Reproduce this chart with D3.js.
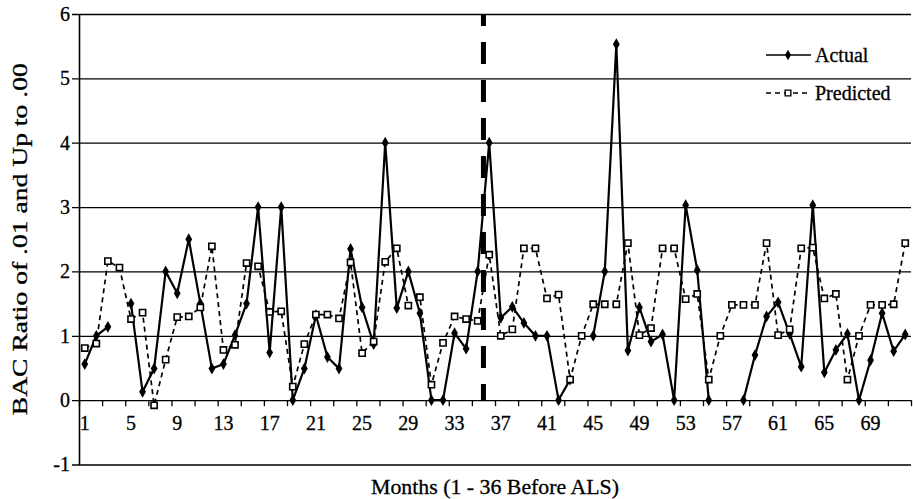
<!DOCTYPE html>
<html>
<head>
<meta charset="utf-8">
<script src="https://cdn.jsdelivr.net/npm/d3@7"></script>
<style>
  body { margin: 0; background: #fff; }
  text { font-family: "Liberation Serif", "Times New Roman", serif; fill: #000; stroke: #000; stroke-width: 0.3px; }
</style>
</head>
<body>
<svg id="chart" width="913" height="499"></svg>
<script>
// Monthly BAC ratio (.01 and up to .00), actual vs. predicted
const months = d3.range(1, 73);
const actual = [0.56, 1.0, 1.14, null, 1.5, 0.13, 0.49, 2.0, 1.66, 2.5, 1.5, 0.49,
                0.56, 1.01, 1.5, 3.0, 0.74, 3.0, 0, 0.49, 1.32, 0.67, 0.49, 2.35,
                1.44, 0.87, 4.0, 1.43, 2.0, 1.35, 0, 0, 1.04, 0.8, 2.0, 4.0,
                1.28, 1.45, 1.2, 1.0, 1.0, 0, 0.32, null, 1.0, 2.0, 5.53, 0.77,
                1.44, 0.91, 1.02, 0, 3.03, 2.02, 0, null, null, 0, 0.7, 1.3,
                1.52, 1.03, 0.52, 3.03, 0.43, 0.78, 1.03, 0, 0.62, 1.35, 0.76, 1.02];
const predicted = [0.81, 0.88, 2.16, 2.06, 1.26, 1.36, -0.08, 0.63, 1.29, 1.30, 1.44, 2.39,
                   0.78, 0.86, 2.13, 2.08, 1.37, 1.38, 0.21, 0.87, 1.33, 1.33, 1.27, 2.14,
                   0.73, 0.91, 2.15, 2.36, 1.47, 1.6, 0.24, 0.89, 1.30, 1.26, 1.23, 2.26,
                   1.0, 1.1, 2.36, 2.36, 1.58, 1.64, 0.32, 1.0, 1.49, 1.49, 1.49, 2.44,
                   1.01, 1.12, 2.36, 2.36, 1.57, 1.65, 0.32, 1.0, 1.48, 1.48, 1.48, 2.44,
                   1.01, 1.1, 2.36, 2.37, 1.58, 1.65, 0.32, 1.0, 1.48, 1.48, 1.49, 2.44];
const yTicks = [-1, 0, 1, 2, 3, 4, 5, 6];
const xTickLabels = months.filter(m => (m - 1) % 4 === 0);
const seriesNames = ["Actual", "Predicted"];
const yTitle = "BAC Ratio of .01 and Up to .00";
const xTitle = "Months (1 - 36 Before ALS)";
const alsBoundary = 35; // months completed before the ALS divider

const svg = d3.select("#chart");
const plotLeft = 79, plotRight = 911, plotTop = 14, plotBottom = 464.5;

const x = d3.scaleBand().domain(months).range([plotLeft, plotRight]);
const xEdge = d3.scaleLinear().domain([0, months.length]).range([plotLeft, plotRight]);
const cx = m => x(m) + x.bandwidth() / 2;
const y = d3.scaleLinear().domain([-1, 6]).range([plotBottom, plotTop]);

// horizontal gridlines, with short ticks left of the axis
svg.append("g")
  .attr("transform", `translate(${plotLeft},0)`)
  .call(d3.axisLeft(y).tickValues(yTicks).tickSize(-(plotRight - plotLeft)).tickFormat(""))
  .call(g => g.select(".domain").remove())
  .call(g => g.selectAll("line").attr("x1", -7).attr("stroke", "#000").attr("stroke-width", 1.3));

// y axis with labels (plain hyphen for negatives)
svg.append("g")
  .attr("transform", `translate(${plotLeft},0)`)
  .call(d3.axisLeft(y).tickValues(yTicks).tickSize(0).tickPadding(9).tickFormat(d => String(d)))
  .call(g => g.select(".domain").attr("stroke", "#000").attr("stroke-width", 1.6))
  .call(g => g.selectAll("text").style("font-size", "20px").style("font-family", "Liberation Serif"));

// x axis crossing at zero: ticks every two months, labels every four
svg.append("g")
  .attr("transform", `translate(0,${y(0)})`)
  .call(d3.axisBottom(xEdge).tickValues(d3.range(0, months.length + 1, 2)).tickSize(6).tickFormat(""))
  .call(g => g.select(".domain").remove())
  .call(g => g.selectAll("line").attr("stroke", "#000").attr("stroke-width", 1.3));

svg.append("g")
  .attr("transform", `translate(0,${y(0)})`)
  .call(d3.axisBottom(x).tickValues(xTickLabels).tickSize(0).tickPadding(16))
  .call(g => g.select(".domain").remove())
  .call(g => g.selectAll("text").style("font-size", "20px").style("font-family", "Liberation Serif"));

// ALS divider
svg.append("line")
  .attr("x1", xEdge(alsBoundary)).attr("x2", xEdge(alsBoundary))
  .attr("y1", y(6)).attr("y2", y(0))
  .attr("stroke", "#000").attr("stroke-width", 5)
  .attr("stroke-dasharray", "22,16").attr("stroke-dashoffset", 10);

const data = months.map((m, i) => ({ m, a: actual[i], p: predicted[i] }));

// Actual series
svg.append("path")
  .datum(data)
  .attr("fill", "none").attr("stroke", "#000").attr("stroke-width", 2.2)
  .attr("d", d3.line().defined(d => d.a != null).x(d => cx(d.m)).y(d => y(d.a)));
svg.append("g").selectAll("path")
  .data(data.filter(d => d.a != null))
  .join("path")
  .attr("transform", d => `translate(${cx(d.m)},${y(d.a)})`)
  .attr("d", d3.symbol(d3.symbolDiamond, 40))
  .attr("fill", "#000");

// Predicted series
svg.append("path")
  .datum(data)
  .attr("fill", "none").attr("stroke", "#000").attr("stroke-width", 1.7)
  .attr("stroke-dasharray", "5,4")
  .attr("d", d3.line().x(d => cx(d.m)).y(d => y(d.p)));
svg.append("g").selectAll("path")
  .data(data)
  .join("path")
  .attr("transform", d => `translate(${cx(d.m)},${y(d.p)})`)
  .attr("d", d3.symbol(d3.symbolSquare, 38))
  .attr("fill", "#fff").attr("stroke", "#000").attr("stroke-width", 1.6);

// legend
const legend = svg.append("g");
seriesNames.forEach((name, i) => {
  const ly = 55 + i * 38;
  legend.append("line")
    .attr("x1", 766).attr("x2", 811).attr("y1", ly).attr("y2", ly)
    .attr("stroke", "#000").attr("stroke-width", i === 0 ? 1.6 : 1.4)
    .attr("stroke-dasharray", i === 0 ? null : "5,4");
  legend.append("path")
    .attr("transform", `translate(788,${ly})`)
    .attr("d", d3.symbol(i === 0 ? d3.symbolDiamond : d3.symbolSquare, 32))
    .attr("fill", i === 0 ? "#000" : "#fff")
    .attr("stroke", i === 0 ? null : "#000").attr("stroke-width", 1.4);
  legend.append("text")
    .attr("x", 815).attr("y", ly).attr("dy", "0.35em")
    .style("font-size", "20px")
    .text(name);
});

// axis titles
svg.append("text")
  .attr("x", (plotLeft + plotRight) / 2).attr("y", 494)
  .attr("text-anchor", "middle")
  .style("font-size", "21px")
  .attr("textLength", 248).attr("lengthAdjust", "spacingAndGlyphs")
  .text(xTitle);

svg.append("text")
  .attr("transform", `translate(27,${(plotTop + plotBottom) / 2}) rotate(-90)`)
  .attr("text-anchor", "middle")
  .style("font-size", "21px")
  .attr("textLength", 352).attr("lengthAdjust", "spacingAndGlyphs")
  .text(yTitle);
</script>
</body>
</html>
